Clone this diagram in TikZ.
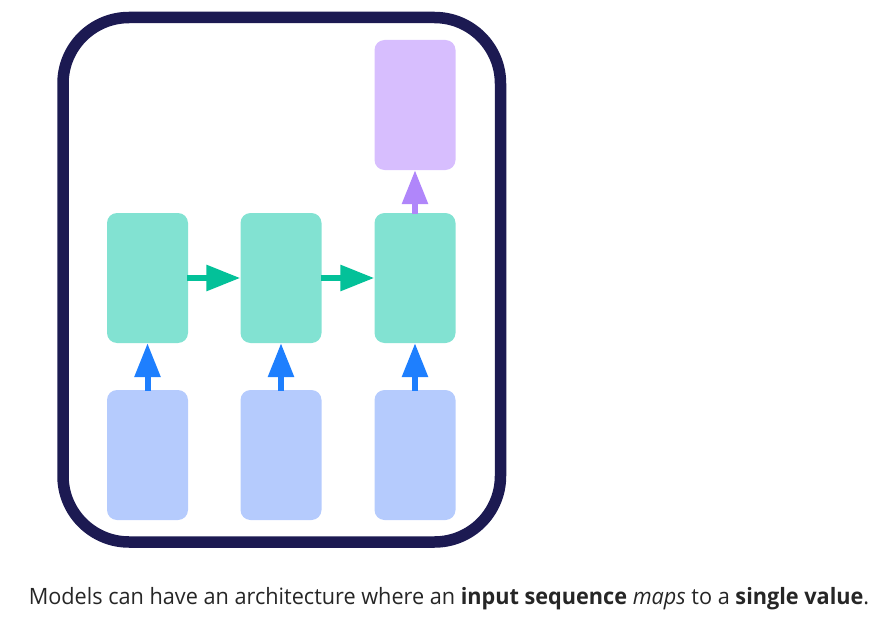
\documentclass[tikz,border=0pt]{standalone}
\usepackage{fontspec}
\setmainfont{Open Sans}
\usetikzlibrary{arrows.meta}
\definecolor{frame}{HTML}{1C1A52}
\definecolor{greenbox}{HTML}{82E2D2}
\definecolor{greenarrow}{HTML}{03C199}
\definecolor{bluebox}{HTML}{B5CBFD}
\definecolor{bluearrow}{HTML}{1E7FFE}
\definecolor{purplebox}{HTML}{D7BEFE}
\definecolor{purplearrow}{HTML}{B086FA}
\begin{document}
\begin{tikzpicture}[x=1pt,y=-1pt,
  cell/.style={rounded corners=10pt, minimum width=81pt, minimum height=130pt, inner sep=0pt},
  hid/.style={cell, fill=greenbox},
  inp/.style={cell, fill=bluebox},
  outp/.style={cell, fill=purplebox},
  arr/.style={line width=6pt, -{Triangle[length=34pt,width=25pt]}, shorten <=-1pt}]
\useasboundingbox (0,0) rectangle (887,618);
\draw[frame, line width=11.5pt, rounded corners=66pt] (63,17.5) rectangle (500.5,542);
\node[outp] (o) at (415,105) {};
\node[hid] (h1) at (147.5,278) {};
\node[hid] (h2) at (281,278) {};
\node[hid] (h3) at (415,278) {};
\node[inp] (x1) at (147.5,455) {};
\node[inp] (x2) at (281,455) {};
\node[inp] (x3) at (415,455) {};
\draw[arr, greenarrow] (h1) -- (h2);
\draw[arr, greenarrow] (h2) -- (h3);
\draw[arr, bluearrow] (x1) -- (h1);
\draw[arr, bluearrow] (x2) -- (h2);
\draw[arr, bluearrow] (x3) -- (h3);
\draw[arr, purplearrow] (h3) -- (o);
\node[font=\fontsize{22.5}{26}\selectfont, anchor=base, inner sep=0pt, text=black!85] (cap) at (449,604.5)
  {\scalebox{0.963}[1]{Models can have an architecture where an \textbf{input sequence} \textit{maps} to a \textbf{single value}.}};
\end{tikzpicture}
\end{document}
